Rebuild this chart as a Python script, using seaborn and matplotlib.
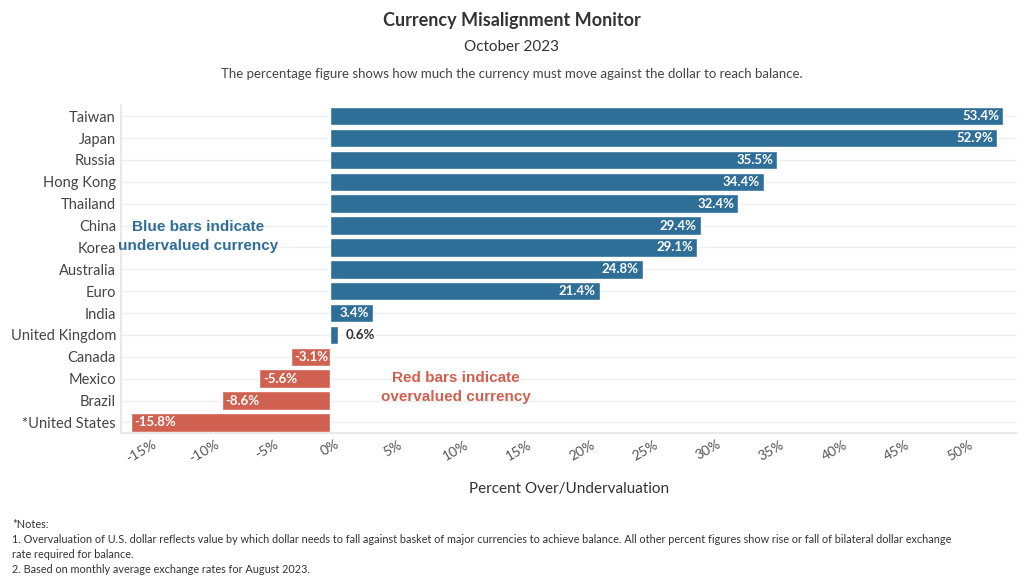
import matplotlib
matplotlib.use("Agg")
import matplotlib.pyplot as plt
import seaborn as sns
import pandas as pd
from matplotlib.ticker import FuncFormatter, MultipleLocator

countries = ["Taiwan", "Japan", "Russia", "Hong Kong", "Thailand", "China", "Korea", "Australia",
             "Euro", "India", "United Kingdom", "Canada", "Mexico", "Brazil", "*United States"]
values = [53.4, 52.9, 35.5, 34.4, 32.4, 29.4, 29.1, 24.8, 21.4, 3.4, 0.6, -3.1, -5.6, -8.6, -15.8]

BLUE = "#2e6e97"
RED = "#d0604f"

sns.set_theme(style="white")
plt.rcParams['font.family'] = ['Lato', 'DejaVu Sans']

df = pd.DataFrame({"country": countries, "value": values})
df["sign"] = ["pos" if v >= 0 else "neg" for v in values]

fig = plt.figure(figsize=(10.24, 5.88), dpi=100)
ax = fig.add_axes([0.118, 0.263, 0.875, 0.558])
sns.barplot(data=df, y="country", x="value", hue="sign", palette={"pos": BLUE, "neg": RED},
            order=countries, dodge=False, legend=False, width=0.85, ax=ax, saturation=1)

ax.set_xlim(-16.6, 54.5)
ax.xaxis.set_major_locator(MultipleLocator(5))
ax.xaxis.set_major_formatter(FuncFormatter(lambda v, p: f"{int(round(v))}%"))
for lab in ax.get_xticklabels():
    lab.set_rotation(30)
ax.tick_params(axis="x", labelsize=10, colors="#555555", length=0)
ax.tick_params(axis="y", labelsize=10.5, colors="#444444", length=0)
ax.set_ylabel("")
ax.set_xlabel("Percent Over/Undervaluation", fontsize=11, color="#333333", labelpad=12)
ax.set_axisbelow(True)
ax.grid(axis="y", color="#eeeeee", linewidth=1)
for s in ["top", "right"]:
    ax.spines[s].set_visible(False)
for s in ["left", "bottom"]:
    ax.spines[s].set_color("#e6e6e6")

for i, v in enumerate(values):
    if abs(v) < 2:
        ax.text(v + 0.6, i, f"{v:.1f}%", va="center", ha="left", fontsize=9.5,
                fontweight="bold", color="#333333")
    elif v > 0:
        ax.text(v - 0.3, i, f"{v:.1f}%", va="center", ha="right", fontsize=9.5,
                fontweight="bold", color="white")
    else:
        ax.text(v + 0.3, i, f"{v:.1f}%", va="center", ha="left", fontsize=9.5,
                fontweight="bold", color="white")

ax.text(-10.5, 5.5, "Blue bars indicate\nundervalued currency", ha="center", va="center",
        fontsize=11, fontweight="bold", color=BLUE, family="Liberation Sans", linespacing=1.4)
ax.text(10.0, 12.4, "Red bars indicate\novervalued currency", ha="center", va="center",
        fontsize=11, fontweight="bold", color=RED, family="Liberation Sans", linespacing=1.4)

fig.text(0.5, 0.955, "Currency Misalignment Monitor", ha="center", fontsize=13, fontweight="bold", color="#333333")
fig.text(0.5, 0.913, "October 2023", ha="center", fontsize=11, color="#333333")
fig.text(0.5, 0.868, "The percentage figure shows how much the currency must move against the dollar to reach balance.",
         ha="center", fontsize=9.5, color="#444444")

notes = ("*Notes:\n"
         "1. Overvaluation of U.S. dollar reflects value by which dollar needs to fall against basket of major currencies to achieve balance. All other percent figures show rise or fall of bilateral dollar exchange\n"
         "rate required for balance.\n"
         "2. Based on monthly average exchange rates for August 2023.")
fig.text(0.012, 0.022, notes, ha="left", va="bottom", fontsize=7.8, color="#333333", linespacing=1.45)

fig.savefig("out.png", dpi=100)
